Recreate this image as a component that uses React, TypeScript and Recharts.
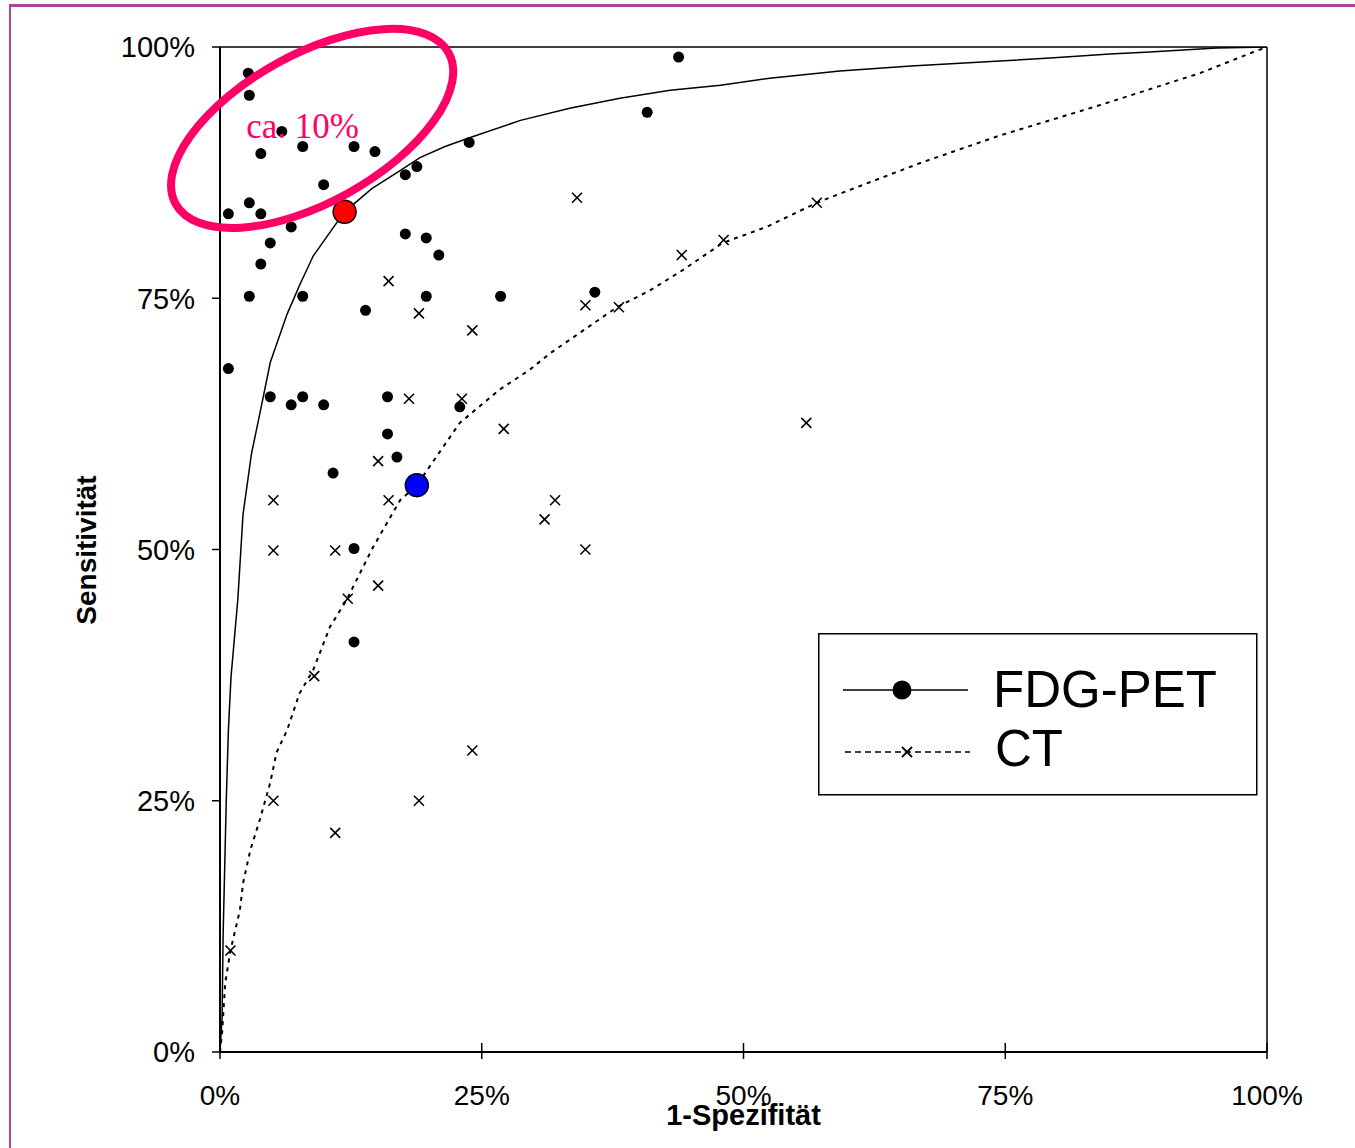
import React from 'react';
import { ScatterChart, Scatter, XAxis, YAxis, ReferenceLine, ReferenceDot, Legend } from 'recharts';

const axisTicks = [0, 25, 50, 75, 100];
const xTitle = '1-Spezifität';
const yTitle = 'Sensitivität';
const seriesNames = ['FDG-PET', 'CT'];
const annotationText = 'ca. 10%';

const fdgStudies = [
  { x: 2.7, y: 97.4 }, { x: 2.8, y: 95.2 }, { x: 5.9, y: 91.6 }, { x: 3.9, y: 89.4 },
  { x: 7.9, y: 90.1 }, { x: 12.8, y: 90.1 }, { x: 14.8, y: 89.6 }, { x: 9.9, y: 86.3 },
  { x: 2.8, y: 84.5 }, { x: 0.8, y: 83.4 }, { x: 3.9, y: 83.4 }, { x: 6.8, y: 82.1 },
  { x: 4.8, y: 80.5 }, { x: 3.9, y: 78.4 }, { x: 2.8, y: 75.2 }, { x: 7.9, y: 75.2 },
  { x: 13.9, y: 73.8 }, { x: 17.7, y: 87.3 }, { x: 18.8, y: 88.1 }, { x: 23.8, y: 90.5 },
  { x: 17.7, y: 81.4 }, { x: 19.7, y: 81.0 }, { x: 20.9, y: 79.3 }, { x: 19.7, y: 75.2 },
  { x: 26.8, y: 75.2 }, { x: 35.8, y: 75.6 }, { x: 40.8, y: 93.5 }, { x: 43.8, y: 99.0 },
  { x: 0.8, y: 68.0 }, { x: 4.8, y: 65.2 }, { x: 6.8, y: 64.4 }, { x: 7.9, y: 65.2 },
  { x: 9.9, y: 64.4 }, { x: 16.0, y: 65.2 }, { x: 22.9, y: 64.2 }, { x: 16.0, y: 61.5 },
  { x: 16.9, y: 59.2 }, { x: 10.8, y: 57.6 }, { x: 12.8, y: 50.1 }, { x: 12.8, y: 40.8 },
];

const ctStudies = [
  { x: 16.1, y: 76.7 }, { x: 19.0, y: 73.5 }, { x: 24.1, y: 71.8 }, { x: 18.05, y: 65.0 },
  { x: 23.1, y: 65.0 }, { x: 27.1, y: 62.0 }, { x: 15.1, y: 58.8 }, { x: 5.1, y: 54.9 },
  { x: 16.1, y: 54.9 }, { x: 31.0, y: 53.0 }, { x: 5.1, y: 49.9 }, { x: 11.0, y: 49.9 },
  { x: 15.1, y: 46.4 }, { x: 12.2, y: 45.1 }, { x: 9.0, y: 37.4 }, { x: 1.0, y: 10.1 },
  { x: 5.1, y: 25.0 }, { x: 11.0, y: 21.8 }, { x: 19.0, y: 25.0 }, { x: 24.1, y: 30.0 },
  { x: 34.1, y: 85.0 }, { x: 57.0, y: 84.5 }, { x: 48.1, y: 80.8 }, { x: 44.1, y: 79.3 },
  { x: 38.1, y: 74.1 }, { x: 34.9, y: 74.3 }, { x: 56.0, y: 62.6 }, { x: 32.0, y: 54.9 },
  { x: 34.9, y: 50.0 },
];

const fdgCurve = [
  { x: 0, y: 0 }, { x: 0.2, y: 3.5 }, { x: 0.3, y: 11.8 }, { x: 0.6, y: 25.1 },
  { x: 0.8, y: 32.0 }, { x: 1.05, y: 37.3 }, { x: 1.7, y: 45.0 }, { x: 2.2, y: 53.5 },
  { x: 3.0, y: 59.5 }, { x: 3.8, y: 63.5 }, { x: 4.8, y: 68.6 }, { x: 6.4, y: 73.4 },
  { x: 7.6, y: 76.3 }, { x: 8.9, y: 79.2 }, { x: 10.8, y: 82.0 }, { x: 11.9, y: 83.6 },
  { x: 14.5, y: 85.9 }, { x: 17.2, y: 87.7 }, { x: 19.1, y: 89.0 }, { x: 21.5, y: 90.1 },
  { x: 23.9, y: 91.0 }, { x: 28.7, y: 92.7 }, { x: 33.4, y: 93.9 }, { x: 38.2, y: 94.9 },
  { x: 43.0, y: 95.7 }, { x: 47.8, y: 96.2 }, { x: 52.5, y: 96.9 }, { x: 59.2, y: 97.6 },
  { x: 66.0, y: 98.1 }, { x: 74.5, y: 98.6 }, { x: 79.3, y: 98.9 }, { x: 85.0, y: 99.3 },
  { x: 88.8, y: 99.5 }, { x: 95.2, y: 99.9 }, { x: 100, y: 100 },
];

const ctCurve = [
  { x: 0, y: 0 }, { x: 0.2, y: 1.9 }, { x: 0.5, y: 6.9 }, { x: 1.0, y: 10.1 },
  { x: 1.9, y: 14.1 }, { x: 2.2, y: 16.8 }, { x: 2.9, y: 20.1 }, { x: 3.8, y: 23.1 },
  { x: 4.8, y: 26.8 }, { x: 5.4, y: 29.8 }, { x: 6.4, y: 32.0 }, { x: 7.6, y: 35.7 },
  { x: 8.9, y: 38.0 }, { x: 10.5, y: 42.3 }, { x: 12.1, y: 45.0 }, { x: 14.6, y: 50.2 },
  { x: 17.2, y: 54.9 }, { x: 18.8, y: 56.4 }, { x: 22.9, y: 62.6 }, { x: 26.7, y: 65.9 },
  { x: 29.6, y: 67.9 }, { x: 31.5, y: 69.5 }, { x: 34.7, y: 71.8 }, { x: 37.9, y: 74.1 },
  { x: 41.1, y: 75.8 }, { x: 44.2, y: 77.8 }, { x: 48.0, y: 80.5 }, { x: 52.2, y: 82.1 },
  { x: 57.0, y: 84.5 }, { x: 60.2, y: 85.8 }, { x: 67.0, y: 88.5 }, { x: 74.5, y: 91.2 },
  { x: 84.0, y: 94.2 }, { x: 93.6, y: 97.4 }, { x: 98.7, y: 99.5 }, { x: 100, y: 100 },
];

const fdgSummary = [{ x: 11.9, y: 83.6 }];
const ctSummary = [{ x: 18.8, y: 56.4 }];
const ellipseCenter = { x: 8.8, y: 91.9 };
const annotationAnchor = { x: 2.5, y: 90.9 };

const FONT = 'Liberation Sans, Arial, Helvetica, sans-serif';
const PINK = '#FF0066';

const NoShape = () => <g />;
const DotShape = (p: any) => <circle cx={p.cx} cy={p.cy} r={5.5} fill="#000" />;
const CrossShape = (p: any) => (
  <g stroke="#000" strokeWidth={1.6}>
    <line x1={p.cx - 5} y1={p.cy - 5} x2={p.cx + 5} y2={p.cy + 5} />
    <line x1={p.cx - 5} y1={p.cy + 5} x2={p.cx + 5} y2={p.cy - 5} />
  </g>
);
const BigDot = (color: string) => (p: any) => (
  <circle cx={p.cx} cy={p.cy} r={11.5} fill={color} stroke="#000" strokeWidth={1.5} />
);
const EllipseShape = (p: any) => (
  <ellipse cx={p.cx} cy={p.cy} rx={156} ry={74} transform={`rotate(-29 ${p.cx} ${p.cy})`}
    fill="none" stroke={PINK} strokeWidth={8} />
);
const AnnotationShape = (p: any) => (
  <text x={p.cx} y={p.cy} fill={PINK} fontSize={35} fontFamily="Liberation Serif, Times New Roman, serif">
    {annotationText}
  </text>
);

const XTick = (p: any) => (
  <g>
    <line x1={p.x} x2={p.x} y1={p.y - 9} y2={p.y + 7} stroke="#000" strokeWidth={1.5} />
    <text x={p.x} y={p.y + 53} textAnchor="middle" fontSize={28} fontFamily={FONT} fill="#000">
      {p.payload.value}%
    </text>
  </g>
);

const renderLegend = () => (
  <svg width={440} height={163} style={{ display: 'block' }}>
    <rect x={0.75} y={0.75} width={438} height={161} fill="#fff" stroke="#000" strokeWidth={1.5} />
    <line x1={25} x2={150} y1={57} y2={57} stroke="#000" strokeWidth={1.5} />
    <circle cx={84} cy={57} r={9.5} fill="#000" />
    <text x={175} y={74} fontSize={51} fontFamily={FONT} fill="#000">{seriesNames[0]}</text>
    <line x1={27} x2={152} y1={119} y2={119} stroke="#000" strokeWidth={1.5} strokeDasharray="6 4" />
    <g stroke="#000" strokeWidth={1.8}>
      <line x1={84} y1={114} x2={94} y2={124} />
      <line x1={84} y1={124} x2={94} y2={114} />
    </g>
    <text x={177} y={133} fontSize={51} fontFamily={FONT} fill="#000">{seriesNames[1]}</text>
  </svg>
);

export default function App() {
  return (
    <div style={{ position: 'absolute', left: 0, top: 0, width: 1355, height: 1148, background: '#fff' }}>
      <div style={{ position: 'absolute', left: 9, top: 4, right: 0, bottom: 0, borderTop: '3px solid #A6489C', borderLeft: '2px solid #A6489C' }} />
      <div style={{ position: 'absolute', left: 0, top: 0 }}>
        <ScatterChart width={1355} height={1148} margin={{ top: 47, right: 88, bottom: 36, left: 140 }}
          style={{ fontFamily: FONT }}>
          <XAxis type="number" dataKey="x" domain={[0, 100]} ticks={axisTicks} allowDataOverflow
            height={60} tickSize={0} tickMargin={0} tickLine={false} tick={<XTick />}
            axisLine={{ stroke: '#000', strokeWidth: 2 }}
            label={{
              content: (lp: any) => {
                const vb = lp.viewBox || { x: 220, y: 1052, width: 1047 };
                return (
                  <text x={vb.x + vb.width / 2} y={vb.y + 73} textAnchor="middle" fontSize={29}
                    fontWeight="bold" fontFamily={FONT} fill="#000">{xTitle}</text>
                );
              },
            }} />
          <YAxis type="number" dataKey="y" domain={[0, 100]} ticks={axisTicks} allowDataOverflow
            width={80} tickSize={8} tickMargin={17}
            tickFormatter={(v: number) => `${v}%`}
            tick={{ fontSize: 29, fill: '#000', fontFamily: FONT }}
            tickLine={{ stroke: '#000', strokeWidth: 1.5 }}
            axisLine={{ stroke: '#000', strokeWidth: 2 }}
            label={{
              content: () => (
                <text x={96} y={550} transform="rotate(-90 96 550)" textAnchor="middle" fontSize={28}
                  fontWeight="bold" fontFamily={FONT} fill="#000">{yTitle}</text>
              ),
            }} />
          <ReferenceLine y={100} stroke="#000" strokeWidth={1.5} ifOverflow="visible" />
          <ReferenceLine x={100} stroke="#000" strokeWidth={1.5} ifOverflow="visible" />
          <Scatter name="fdgCurve" data={fdgCurve} line={{ stroke: '#000', strokeWidth: 1.5 }} shape={NoShape}
            isAnimationActive={false} legendType="none" />
          <Scatter name="ctCurve" data={ctCurve} line={{ stroke: '#000', strokeWidth: 2, strokeDasharray: '4 5' }}
            shape={NoShape} isAnimationActive={false} legendType="none" />
          <Scatter name={seriesNames[0]} data={fdgStudies} shape={DotShape} isAnimationActive={false} />
          <Scatter name={seriesNames[1]} data={ctStudies} shape={CrossShape} isAnimationActive={false} />
          <Scatter name="fdgSummary" data={fdgSummary} shape={BigDot('#FF0000')} isAnimationActive={false} legendType="none" />
          <Scatter name="ctSummary" data={ctSummary} shape={BigDot('#0000FF')} isAnimationActive={false} legendType="none" />
          <ReferenceDot x={ellipseCenter.x} y={ellipseCenter.y} ifOverflow="visible" shape={EllipseShape} />
          <ReferenceDot x={annotationAnchor.x} y={annotationAnchor.y} ifOverflow="visible" shape={AnnotationShape} />
          <Legend layout="vertical" align="center" verticalAlign="middle" content={renderLegend}
            wrapperStyle={{ position: 'absolute', left: 818, top: 633, width: 440, height: 163 }} />
        </ScatterChart>
      </div>
    </div>
  );
}
